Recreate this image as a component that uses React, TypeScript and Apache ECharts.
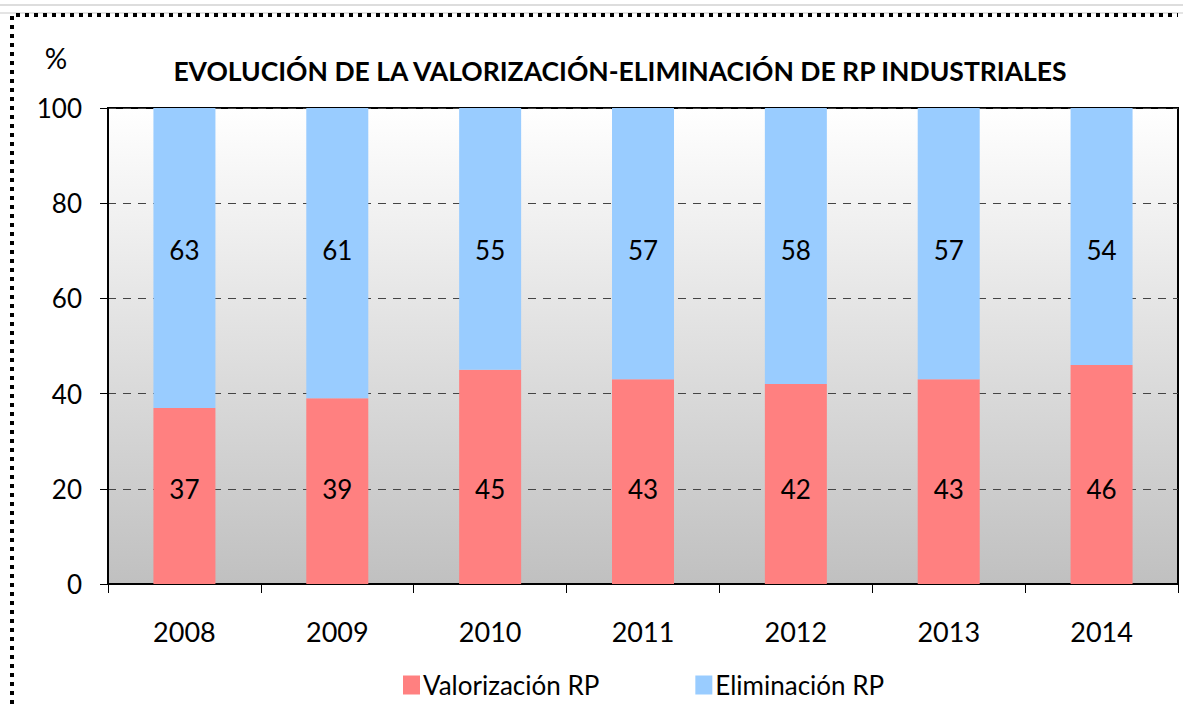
import React, { useEffect, useRef } from "react";
import * as echarts from "echarts";

const years = ["2008", "2009", "2010", "2011", "2012", "2013", "2014"];
const valorizacion = [37, 39, 45, 43, 42, 43, 46];
const eliminacion = [63, 61, 55, 57, 58, 57, 54];
const yTicks = { min: 0, max: 100, interval: 20 };
const titleText = "EVOLUCIÓN DE LA VALORIZACIÓN-ELIMINACIÓN DE RP INDUSTRIALES";
const seriesNames = ["Valorización RP", "Eliminación RP"];

const FONT = "Lato";

export default function App() {
  const ref = useRef<HTMLDivElement>(null);
  useEffect(() => {
    if (!ref.current) return;
    const chart = echarts.init(ref.current, undefined, { renderer: "svg" });
    chart.setOption({
      animation: false,
      backgroundColor: "#ffffff",
      textStyle: { fontFamily: FONT, color: "#000" },
      graphic: [
        { type: "line", shape: { x1: 0, y1: 5, x2: 1183, y2: 5 }, style: { stroke: "#dddddd", lineWidth: 2 } },
        { type: "line", shape: { x1: 0, y1: 13, x2: 1183, y2: 13 }, style: { stroke: "#e4e4e4", lineWidth: 2 } },
        {
          type: "polyline",
          shape: { points: [[12, 704], [12, 15], [1178, 15]] },
          style: { stroke: "#000", lineWidth: 4, lineDash: [4, 5], fill: null },
        },
        {
          type: "text",
          x: 620,
          y: 71,
          style: {
            text: titleText,
            fontFamily: FONT,
            fontWeight: "bold",
            fontSize: 26.5,
            fill: "#000",
            align: "center",
            verticalAlign: "middle",
          },
        },
        {
          type: "text",
          x: 56,
          y: 58,
          style: { text: "%", fontFamily: FONT, fontSize: 28, fill: "#000", align: "center", verticalAlign: "middle" },
        },
      ],
      legend: {
        left: 398,
        top: 666,
        itemWidth: 17,
        itemHeight: 19,
        itemGap: 96,
        icon: "rect",
        textStyle: { fontFamily: FONT, fontSize: 26, lineHeight: 28, color: "#000", padding: [0, 0, 0, -2] },
        data: seriesNames,
      },
      grid: {
        left: 108,
        top: 108,
        right: 5,
        bottom: 120,
        show: true,
        borderColor: "#000",
        borderWidth: 2,
        backgroundColor: {
          type: "linear",
          x: 0,
          y: 0,
          x2: 0,
          y2: 1,
          colorStops: [
            { offset: 0, color: "#ffffff" },
            { offset: 1, color: "#c0c0c0" },
          ],
        },
      },
      xAxis: {
        type: "category",
        data: years,
        axisLine: { show: true, lineStyle: { color: "#000", width: 2 } },
        axisTick: { show: true, length: 9, lineStyle: { color: "#000", width: 1 } },
        axisLabel: { fontFamily: FONT, fontSize: 27, color: "#000", margin: 34 },
      },
      yAxis: {
        type: "value",
        min: yTicks.min,
        max: yTicks.max,
        interval: yTicks.interval,
        axisLine: { show: true, lineStyle: { color: "#000", width: 2 } },
        axisTick: { show: true, length: 8, lineStyle: { color: "#000", width: 1 } },
        axisLabel: { fontFamily: FONT, fontSize: 26, color: "#000", margin: 26 },
        splitLine: { show: true, lineStyle: { color: "#444", type: [8, 7], width: 1 } },
      },
      series: [
        {
          name: seriesNames[0],
          type: "bar",
          stack: "total",
          data: valorizacion,
          barWidth: 62,
          itemStyle: { color: "#FF8080" },
          label: {
            show: true,
            position: "insideBottom",
            distance: 82,
            fontFamily: FONT,
            fontSize: 26,
            color: "#000",
          },
        },
        {
          name: seriesNames[1],
          type: "bar",
          stack: "total",
          data: eliminacion,
          barWidth: 62,
          itemStyle: { color: "#99CCFF" },
          label: {
            show: true,
            position: "insideTop",
            distance: 129,
            fontFamily: FONT,
            fontSize: 26,
            color: "#000",
          },
        },
      ],
    });
    return () => chart.dispose();
  }, []);
  return (
    <div
      ref={ref}
      style={{ position: "fixed", left: 0, top: 0, width: 1183, height: 704 }}
    />
  );
}
